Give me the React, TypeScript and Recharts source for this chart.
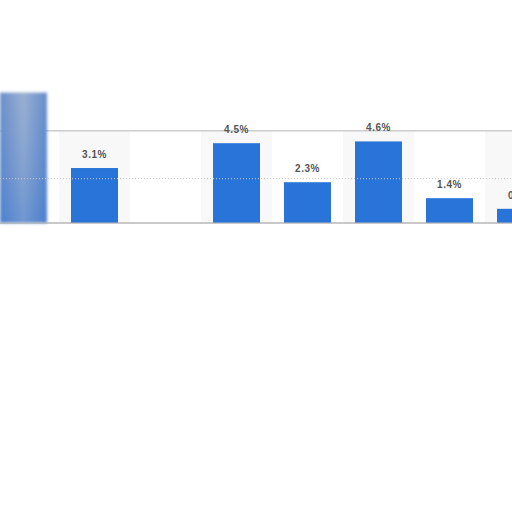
import { Bar, BarChart, Cell, LabelList, ReferenceArea, ReferenceLine, XAxis, YAxis } from "recharts";

// categories (axis labels are cropped out of the picture)
const years = ["2015", "2016", "2017", "2018", "2019", "2020", "2021", "2022"];
// growth in %, first bar is the blurred one at the left edge, third is empty
const growth = [7.35, 3.1, null, 4.5, 2.3, 4.6, 1.4, 0.8];
const valueLabels = ["", "3.1%", "", "4.5%", "2.3%", "4.6%", "1.4%", "0.8%"];
const frameTop = 5.2;

const data = years.map((year, i) => ({
  year,
  value: growth[i],
  label: valueLabels[i],
}));

const BLUE = "#2874d8";

// first bar looks smeared in the picture, so it gets a blur filter
function BarShape(props: any) {
  const { x, y, width, height, index } = props;
  if (height == null || height <= 0) return null;
  if (index === 0) {
    return (
      <g filter="url(#soft)">
        <rect x={x} y={y} width={width} height={height} fill="url(#smearH)" />
        <rect x={x} y={y} width={width} height={height} fill="url(#smearV)" />
      </g>
    );
  }
  return <rect x={x} y={y} width={width} height={height} fill={BLUE} />;
}

export default function App() {
  return (
    <div style={{ position: "absolute", left: -12.5, top: 0 }}>
      <BarChart
        width={568}
        height={240}
        data={data}
        margin={{ top: 90, right: 0, left: 0, bottom: 16 }}
        barSize={47}
      >
        <defs>
          <linearGradient id="smearH" x1="0" y1="0" x2="1" y2="0">
            <stop offset="0%" stopColor="#5a85c8" />
            <stop offset="50%" stopColor="#9fb3d2" />
            <stop offset="100%" stopColor="#5383cb" />
          </linearGradient>
          <linearGradient id="smearV" x1="0" y1="0" x2="0" y2="1">
            <stop offset="0%" stopColor="#8ea6cf" stopOpacity={0.3} />
            <stop offset="100%" stopColor="#3f7ad0" stopOpacity={0.5} />
          </linearGradient>
          <filter id="soft" x="-20%" y="-10%" width="140%" height="120%">
            <feGaussianBlur stdDeviation="1.6" />
          </filter>
        </defs>
        <XAxis
          dataKey="year"
          tick={false}
          tickLine={false}
          height={1}
          axisLine={{ stroke: "#b9b9b9" }}
        />
        <YAxis hide domain={[0, 7.5]} />
        {/* alternating column shading */}
        {years.map((y, i) =>
          i % 2 === 1 ? (
            <ReferenceArea
              key={`band-${y}`}
              x1={y}
              x2={y}
              y1={0}
              y2={frameTop}
              fill="#f8f8f8"
              fillOpacity={1}
              stroke="none"
            />
          ) : null,
        )}
        {/* frame of the plot */}
        <ReferenceArea
          x1={years[0]}
          x2={years[years.length - 1]}
          y1={0}
          y2={frameTop}
          fill="none"
          fillOpacity={0}
          stroke="#cdcdcd"
          strokeWidth={1.5}
        />
        <ReferenceLine y={2.5} stroke="#c8c8c8" strokeDasharray="1 2" />
        <Bar dataKey="value" fill={BLUE} shape={BarShape} isAnimationActive={false}>
          {data.map((d) => (
            <Cell key={d.year} fill={BLUE} />
          ))}
          <LabelList
            dataKey="label"
            position="top"
            offset={10}
            style={{
              fontFamily: "'Liberation Sans', Arial, sans-serif",
              fontSize: 10,
              fontWeight: 700,
              fill: "#555555",
              letterSpacing: 0.5,
            }}
          />
        </Bar>
      </BarChart>
    </div>
  );
}
